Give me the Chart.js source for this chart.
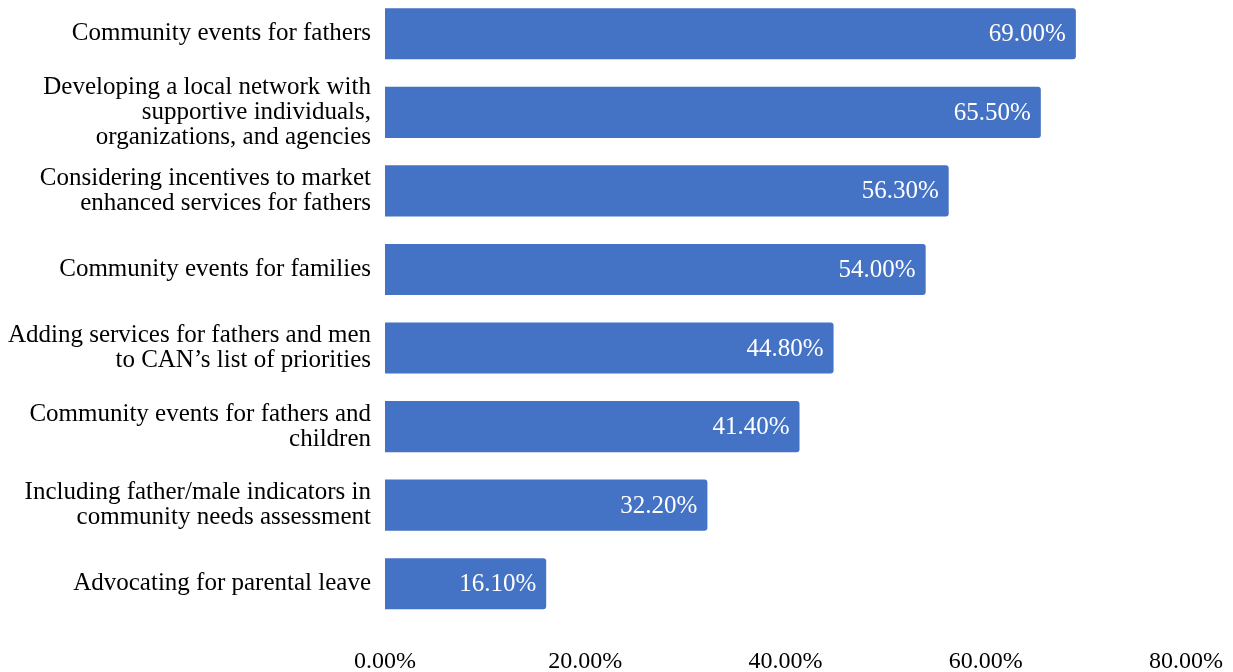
<!DOCTYPE html>
<html>
<head>
<meta charset="utf-8">
<script src="https://cdn.jsdelivr.net/npm/chart.js@4/dist/chart.umd.min.js"></script>
<style>
  html, body { margin: 0; padding: 0; background: #ffffff; overflow: hidden; }
  #wrap { position: absolute; left: 0; top: -32px; width: 1233px; height: 704px; }
</style>
</head>
<body>
<div id="wrap"><canvas id="chart" width="1233" height="704"></canvas></div>
<script>
// Survey responses: share of respondents selecting each activity
const categories = [
  "Community events for fathers",
  ["Developing a local network with", "supportive individuals,", "organizations, and agencies"],
  ["Considering incentives to market", "enhanced services for fathers"],
  "Community events for families",
  ["Adding services for fathers and men", "to CAN\u2019s list of priorities"],
  ["Community events for fathers and", "children"],
  ["Including father/male indicators in", "community needs assessment"],
  "Advocating for parental leave"
];
const percentages = [69.0, 65.5, 56.3, 54.0, 44.8, 41.4, 32.2, 16.1];
const axisTicks = [0, 20, 40, 60, 80];

const serif = "'Liberation Serif', 'Times New Roman', serif";
const fmt = v => v.toFixed(2) + "%";

// Writes each bar's value in white just inside its right end
const valueLabels = {
  id: "valueLabels",
  afterDatasetsDraw(chart) {
    const ctx = chart.ctx;
    const meta = chart.getDatasetMeta(0);
    ctx.save();
    ctx.font = "25px " + serif;
    ctx.fillStyle = "#ffffff";
    ctx.textAlign = "right";
    ctx.textBaseline = "middle";
    meta.data.forEach((bar, i) => {
      ctx.fillText(fmt(chart.data.datasets[0].data[i]), bar.x - 10, bar.y + 1);
    });
    ctx.restore();
  }
};

new Chart(document.getElementById("chart"), {
  type: "bar",
  data: {
    labels: categories,
    datasets: [{
      data: percentages,
      backgroundColor: "#4472C4",
      borderRadius: 3,
      borderSkipped: "start",
      categoryPercentage: 1.0,
      barPercentage: 0.65
    }]
  },
  options: {
    indexAxis: "y",
    responsive: false,
    animation: false,
    devicePixelRatio: 1,
    layout: { autoPadding: false, padding: { left: 0, right: 47, top: 0, bottom: 0 } },
    plugins: { legend: { display: false }, tooltip: { enabled: false } },
    scales: {
      x: {
        min: 0,
        max: 80,
        afterBuildTicks: s => { s.ticks = axisTicks.map(v => ({ value: v })); },
        afterFit: s => { s.height = 49; s.paddingLeft = 0; s.paddingRight = 0; },
        grid: { display: false, drawTicks: false },
        border: { display: false },
        ticks: {
          padding: 24,
          color: "#000000",
          maxRotation: 0,
          font: { family: serif, size: 24 },
          callback: v => fmt(v)
        }
      },
      y: {
        afterFit: s => { s.width = 385; },
        grid: { display: false, drawTicks: false },
        border: { display: false },
        ticks: {
          autoSkip: false,
          padding: 14,
          color: "#000000",
          font: { family: serif, size: 25, lineHeight: 1.0 }
        }
      }
    }
  },
  plugins: [valueLabels]
});
</script>
</body>
</html>
